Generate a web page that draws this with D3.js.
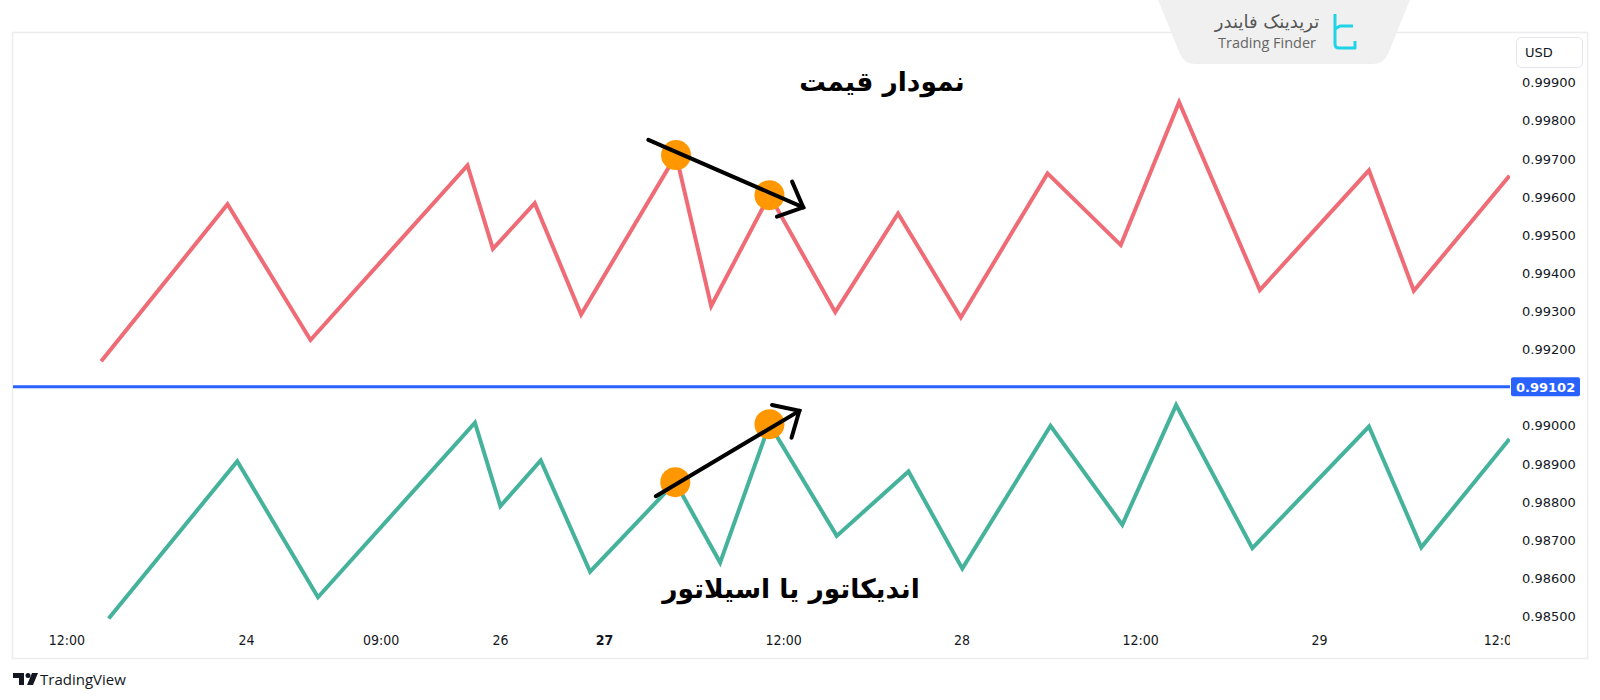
<!DOCTYPE html>
<html>
<head>
<meta charset="utf-8">
<script src="https://cdn.jsdelivr.net/npm/d3@7/dist/d3.min.js"></script>
<style>
  html, body { margin: 0; padding: 0; background: #ffffff; }
  svg { display: block; }
</style>
</head>
<body>
<svg id="chart" width="1600" height="700"></svg>
<script>
// ---------------- DATA ----------------
// x positions are bar indices along the (gap-compressed) TradingView time axis
const priceIdx = [5.9, 14.35, 19.9, 30.4, 32.1, 34.9, 38.0, 44.35, 46.7, 50.6, 55.0, 59.2, 63.4, 69.2, 74.1, 78.0, 83.4, 90.7, 93.7, 100.1];
const priceVal = [0.99169, 0.99581, 0.99225, 0.99683, 0.99464, 0.99584, 0.99292, 0.99710, 0.99314, 0.99605, 0.99298, 0.99557, 0.99284, 0.99662, 0.99474, 0.99849, 0.99356, 0.99670, 0.99354, 0.99656];

const indIdx = [6.4, 15.0, 20.4, 30.9, 32.6, 35.3, 38.6, 44.3, 47.3, 50.6, 55.1, 59.9, 63.5, 69.4, 74.2, 77.8, 82.9, 90.7, 94.2, 100.1];
const indVal = [0.98494, 0.98907, 0.98550, 0.99008, 0.98789, 0.98909, 0.98617, 0.98852, 0.98641, 0.99004, 0.98711, 0.98880, 0.98625, 0.99000, 0.98740, 0.99054, 0.98679, 0.98998, 0.98681, 0.98965];

const xTickIdx = [3.57, 15.58, 24.59, 32.57, 39.53, 51.51, 63.45, 75.39, 87.36, 99.56];
const xTickLabels = ["12:00", "24", "09:00", "26", "27", "12:00", "28", "12:00", "29", "12:00"];
const xTickBold = ["27"];

const yTickValues = [0.985, 0.986, 0.987, 0.988, 0.989, 0.990, 0.992, 0.993, 0.994, 0.995, 0.996, 0.997, 0.998, 0.999];
const currentPrice = 0.99102;
const currency = "USD";

// highlighted swing points (indices into the series arrays)
const priceMarks = [7, 9];
const indMarks = [7, 9];

// divergence arrows: [startIdx, startVal, endIdx, endVal]
const priceArrow = [42.5, 0.99750, 52.86, 0.99573];
const indArrow = [43.0, 0.98815, 52.6, 0.99039];

const titlePrice = "نمودار قیمت";
const titleIndicator = "اندیکاتور یا اسیلاتور";
const brandFa = "تریدینک فایندر";
const brandEn = "Trading Finder";
const footer = "TradingView";

// ---------------- SCALES ----------------
const svg = d3.select("#chart");
const x = d3.scaleLinear().domain([0, 100]).range([13, 1508]);
const y = d3.scaleLinear().domain([0.985, 0.999]).range([616.3, 82.7]);

const COLORS = { price: "#ef6b75", ind: "#45b29c", blue: "#2962ff", text: "#131722", orange: "#ff9800" };

// defs / clips
const defs = svg.append("defs");
defs.append("clipPath").attr("id", "plotClip").append("rect")
  .attr("x", 13).attr("y", 33).attr("width", 1497).attr("height", 625);
defs.append("clipPath").attr("id", "tickClip").append("rect")
  .attr("x", 13).attr("y", 620).attr("width", 1497).attr("height", 40);

// panel frame
svg.append("rect")
  .attr("x", 12.5).attr("y", 32.5).attr("width", 1575).attr("height", 626)
  .attr("fill", "#ffffff").attr("stroke", "#ececec").attr("stroke-width", 1.5);

// ---------------- Y AXIS ----------------
const yAxis = d3.axisRight(y).tickValues(yTickValues).tickFormat(d3.format(".5f")).tickSize(0).tickPadding(0);
const yg = svg.append("g").attr("transform", "translate(1522,0)").call(yAxis);
yg.select(".domain").remove();
yg.selectAll("text").attr("font-family", "DejaVu Sans, sans-serif").attr("font-size", 13)
  .attr("fill", COLORS.text).attr("text-anchor", "start").attr("x", 0);

// USD box
svg.append("rect").attr("x", 1516.5).attr("y", 37.5).attr("width", 66).attr("height", 30).attr("rx", 5)
  .attr("fill", "#ffffff").attr("stroke", "#e3e5ea");
svg.append("text").attr("x", 1525).attr("y", 57).text(currency)
  .attr("font-family", "DejaVu Sans, sans-serif").attr("font-size", 13).attr("fill", COLORS.text);

// ---------------- X AXIS ----------------
const xAxis = d3.axisBottom(x).tickValues(xTickIdx).tickFormat((d, i) => xTickLabels[i]).tickSize(0).tickPadding(0);
const xOuter = svg.append("g").attr("clip-path", "url(#tickClip)");
const xg = xOuter.append("g").attr("transform", "translate(0,635)").call(xAxis);
xg.select(".domain").remove();
xg.selectAll("text").attr("font-family", "DejaVu Sans Condensed, DejaVu Sans, sans-serif").attr("font-size", 14)
  .attr("fill", COLORS.text)
  .attr("font-weight", (d, i) => xTickBold.includes(xTickLabels[i]) ? "bold" : "normal");

// ---------------- SERIES ----------------
const plot = svg.append("g").attr("clip-path", "url(#plotClip)");
const line = d3.line().x(d => x(d[0])).y(d => y(d[1]));
const priceData = priceIdx.map((d, i) => [d, priceVal[i]]);
const indData = indIdx.map((d, i) => [d, indVal[i]]);

plot.append("path").datum(priceData).attr("d", line)
  .attr("fill", "none").attr("stroke", COLORS.price).attr("stroke-width", 4).attr("stroke-linejoin", "miter");
plot.append("path").datum(indData).attr("d", line)
  .attr("fill", "none").attr("stroke", COLORS.ind).attr("stroke-width", 4).attr("stroke-linejoin", "miter");

// current price line
plot.append("line").attr("x1", x(0)).attr("x2", 1511).attr("y1", y(currentPrice)).attr("y2", y(currentPrice))
  .attr("stroke", COLORS.blue).attr("stroke-width", 3);
svg.append("rect").attr("x", 1511).attr("y", y(currentPrice) - 9.5).attr("width", 69).attr("height", 19).attr("rx", 2)
  .attr("fill", COLORS.blue);
svg.append("text").attr("x", 1516).attr("y", y(currentPrice) + 4.8).text(d3.format(".5f")(currentPrice))
  .attr("font-family", "DejaVu Sans, sans-serif").attr("font-size", 13).attr("font-weight", "bold").attr("fill", "#ffffff");

// swing circles
plot.selectAll("circle.pm").data(priceMarks.map(i => priceData[i])).join("circle")
  .attr("cx", d => x(d[0])).attr("cy", d => y(d[1])).attr("r", 15).attr("fill", COLORS.orange);
plot.selectAll("circle.im").data(indMarks.map(i => indData[i])).join("circle")
  .attr("cx", d => x(d[0])).attr("cy", d => y(d[1])).attr("r", 15).attr("fill", COLORS.orange);

// arrows
function drawArrow(a) {
  const x1 = x(a[0]), y1 = y(a[1]), x2 = x(a[2]), y2 = y(a[3]);
  const ang = Math.atan2(y2 - y1, x2 - x1);
  const L = 28, spread = 43 * Math.PI / 180;
  const p1 = [x2 - L * Math.cos(ang - spread), y2 - L * Math.sin(ang - spread)];
  const p2 = [x2 - L * Math.cos(ang + spread), y2 - L * Math.sin(ang + spread)];
  const g = svg.append("g").attr("stroke", "#000").attr("stroke-width", 4).attr("fill", "none")
    .attr("stroke-linecap", "round").attr("stroke-linejoin", "miter");
  g.append("line").attr("x1", x1).attr("y1", y1).attr("x2", x2).attr("y2", y2);
  g.append("path").attr("d", `M${p1[0]},${p1[1]}L${x2},${y2}L${p2[0]},${p2[1]}`);
}
drawArrow(priceArrow);
drawArrow(indArrow);

// titles
svg.append("text").attr("x", 882).attr("y", 91).attr("text-anchor", "middle").text(titlePrice)
  .attr("font-family", "DejaVu Sans, sans-serif").attr("font-weight", "bold").attr("font-size", 26.5).attr("fill", "#000");
svg.append("text").attr("x", 791).attr("y", 598).attr("text-anchor", "middle").text(titleIndicator)
  .attr("font-family", "DejaVu Sans, sans-serif").attr("font-weight", "bold").attr("font-size", 26.5).attr("fill", "#000");

// ---------------- BRAND BADGE ----------------
svg.append("path")
  .attr("d", "M1158,0 L1410,0 L1388,54 Q1384,64 1372,64 L1196,64 Q1184,64 1180,54 Z")
  .attr("fill", "#f0f0f0");
svg.append("text").attr("x", 1267).attr("y", 28).attr("text-anchor", "middle").text(brandFa)
  .attr("font-family", "DejaVu Sans, sans-serif").attr("font-size", 18).attr("fill", "#555");
svg.append("text").attr("x", 1267).attr("y", 48).attr("text-anchor", "middle").text(brandEn)
  .attr("font-family", "Open Sans, sans-serif").attr("font-size", 14.5).attr("fill", "#666");
svg.append("path")
  .attr("d", "M1335,14 V29 L1340,26 H1353 M1335,29 V44 Q1335,48 1339,48 H1355 V41")
  .attr("fill", "none").attr("stroke", "#1fd3e8").attr("stroke-width", 3).attr("stroke-linejoin", "round");

// ---------------- FOOTER ----------------
const tv = svg.append("g").attr("transform", "translate(13,673)").attr("fill", "#131722");
tv.append("path").attr("d", "M0,0 H11 V12 H6 V5 H0 Z");
tv.append("circle").attr("cx", 15).attr("cy", 2.5).attr("r", 2.5);
tv.append("path").attr("d", "M19,0 H25 L20,12 H14 Z");
svg.append("text").attr("x", 40).attr("y", 685).text(footer)
  .attr("font-family", "Open Sans, sans-serif").attr("font-size", 15).attr("fill", "#131722");
</script>
</body>
</html>
